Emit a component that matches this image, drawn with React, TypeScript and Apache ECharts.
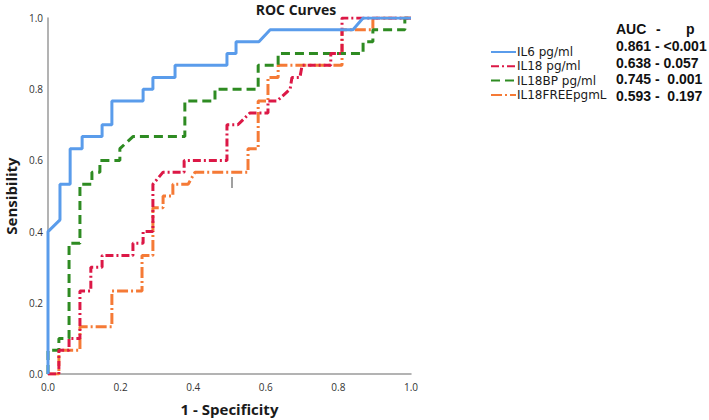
import React, { useEffect, useRef } from "react";
import * as echarts from "echarts";

const seriesNames = ["IL6 pg/ml", "IL18 pg/ml", "IL18BP pg/ml", "IL18FREEpgmL"];
const seriesColors = ["#5A9CEB", "#DC1846", "#2E8B22", "#F57A36"];

// [1 - specificity, sensitivity]
const il6Points = [
  [0, 0], [0, 0.4], [0.033, 0.433], [0.033, 0.533], [0.061, 0.533], [0.061, 0.633],
  [0.094, 0.633], [0.094, 0.667], [0.149, 0.667], [0.149, 0.7], [0.176, 0.7],
  [0.176, 0.767], [0.262, 0.767], [0.262, 0.8], [0.289, 0.8], [0.289, 0.833],
  [0.35, 0.833], [0.35, 0.867], [0.493, 0.867], [0.493, 0.9], [0.518, 0.9],
  [0.518, 0.933], [0.581, 0.933], [0.612, 0.967], [0.84, 0.967], [0.868, 1], [1, 1],
];
const il18Points = [
  [0, 0], [0.03, 0], [0.03, 0.067], [0.058, 0.067], [0.058, 0.1], [0.088, 0.1],
  [0.088, 0.233], [0.118, 0.233], [0.118, 0.3], [0.149, 0.3], [0.149, 0.333],
  [0.234, 0.333], [0.234, 0.367], [0.262, 0.367], [0.262, 0.4], [0.289, 0.4],
  [0.289, 0.533], [0.317, 0.567], [0.375, 0.567], [0.375, 0.6], [0.493, 0.6],
  [0.493, 0.7], [0.523, 0.7], [0.556, 0.733], [0.606, 0.733], [0.606, 0.767],
  [0.631, 0.767], [0.667, 0.8], [0.672, 0.833], [0.694, 0.833], [0.7, 0.867],
  [0.779, 0.867], [0.779, 0.9], [0.81, 0.9], [0.81, 1], [1, 1],
];
const il18bpPoints = [
  [0, 0], [0, 0.067], [0.03, 0.067], [0.03, 0.1], [0.058, 0.1], [0.058, 0.367],
  [0.088, 0.367], [0.088, 0.533], [0.121, 0.533], [0.121, 0.567], [0.143, 0.567],
  [0.143, 0.6], [0.198, 0.6], [0.198, 0.633], [0.234, 0.667], [0.377, 0.667],
  [0.377, 0.767], [0.46, 0.767], [0.46, 0.8], [0.579, 0.8], [0.579, 0.867],
  [0.634, 0.867], [0.634, 0.9], [0.868, 0.9], [0.868, 0.933], [0.895, 0.933],
  [0.895, 0.967], [0.983, 0.967], [0.983, 1], [1, 1],
];
const il18freePoints = [
  [0, 0], [0.03, 0], [0.03, 0.067], [0.088, 0.067], [0.088, 0.133], [0.176, 0.133],
  [0.176, 0.233], [0.259, 0.233], [0.259, 0.333], [0.289, 0.333], [0.289, 0.467],
  [0.317, 0.467], [0.317, 0.5], [0.344, 0.5], [0.344, 0.533], [0.386, 0.533],
  [0.405, 0.567], [0.551, 0.567], [0.551, 0.633], [0.579, 0.633], [0.579, 0.767],
  [0.606, 0.767], [0.606, 0.833], [0.634, 0.833], [0.634, 0.867], [0.81, 0.867],
  [0.81, 0.967], [0.895, 0.967], [0.895, 1], [1, 1],
];
const seriesPoints = [il6Points, il18Points, il18bpPoints, il18freePoints];
const seriesDash: any[] = ["solid", [8, 3, 2, 3], [9, 5], [11, 3, 2, 3]];

const aucHeader = ["AUC", "-", "p"];
const aucRows = ["0.861 - <0.001", "0.638 - 0.057", "0.745 -  0.001", "0.593 -  0.197"];

const FONT = "'Open Sans', 'DejaVu Sans', sans-serif";
const FONT_L = "'DejaVu Sans', 'Open Sans', sans-serif";
const FONT_B = "'Liberation Sans', Arial, sans-serif";

export default function App() {
  const ref = useRef<HTMLDivElement>(null);
  useEffect(() => {
    if (!ref.current) return;
    const chart = echarts.init(ref.current, undefined, { renderer: "svg" });
    const rowY = [46, 62.5, 79, 95.5];
    const aucFont = `bold 14px ${FONT_B}`;
    const graphics: any[] = [
      {
        type: "text",
        x: 296,
        y: 9,
        style: { text: "ROC Curves", font: `bold 14px ${FONT}`, fill: "#1a1a1a", align: "center", verticalAlign: "middle" },
      },
      { type: "text", x: 616, y: 29, style: { text: aucHeader[0], font: aucFont, fill: "#111", verticalAlign: "middle" } },
      { type: "text", x: 656, y: 29, style: { text: aucHeader[1], font: aucFont, fill: "#111", verticalAlign: "middle" } },
      { type: "text", x: 686, y: 29, style: { text: aucHeader[2], font: aucFont, fill: "#111", verticalAlign: "middle" } },
      ...aucRows.map((t, i) => ({
        type: "text",
        x: 616,
        y: rowY[i],
        style: { text: t, font: aucFont, fill: "#111", verticalAlign: "middle" },
      })),
      {
        type: "line",
        shape: { x1: 232, y1: 177, x2: 232, y2: 188 },
        style: { stroke: "#808080", lineWidth: 1.5 },
      },
    ];
    chart.setOption({
      animation: false,
      backgroundColor: "#ffffff",
      grid: { left: 48, right: 298, top: 18, bottom: 46, containLabel: false, outerBoundsMode: "none" },
      legend: {
        orient: "vertical",
        left: 490,
        top: 45,
        padding: 0,
        itemWidth: 25,
        itemHeight: 10,
        itemGap: 0.3,
        data: seriesNames,
        itemStyle: { color: "transparent", borderColor: "transparent", opacity: 0 },
        textStyle: { fontSize: 12, lineHeight: 14, fontFamily: FONT_L, color: "#1a1a1a", padding: [0, 0, 0, -4] },
      },
      xAxis: {
        type: "value",
        min: 0,
        max: 1,
        interval: 0.2,
        name: "1 - Specificity",
        nameLocation: "middle",
        nameGap: 27,
        nameTextStyle: { fontSize: 15, fontWeight: "bold", fontFamily: FONT, color: "#1a1a1a" },
        axisLine: { show: true, lineStyle: { color: "#9a9a9a", width: 1.5 } },
        axisTick: { show: false },
        splitLine: { show: false },
        axisLabel: { formatter: (v: number) => v.toFixed(1), fontSize: 10, fontFamily: FONT, color: "#333", margin: 8 },
      },
      yAxis: {
        type: "value",
        min: 0,
        max: 1,
        interval: 0.2,
        name: "Sensibility",
        nameLocation: "middle",
        nameGap: 30,
        nameTextStyle: { fontSize: 15, fontWeight: "bold", fontFamily: FONT, color: "#1a1a1a" },
        axisLine: { show: true, lineStyle: { color: "#9a9a9a", width: 1.5 } },
        axisTick: { show: false },
        splitLine: { show: false },
        axisLabel: { formatter: (v: number) => v.toFixed(1), fontSize: 10, fontFamily: FONT, color: "#333", margin: 5 },
      },
      series: seriesNames.map((name, i) => ({
        name,
        type: "line",
        data: seriesPoints[i],
        showSymbol: false,
        symbol: "none",
        color: seriesColors[i],
        lineStyle: { width: 3, type: seriesDash[i], color: seriesColors[i] },
        z: 10 - i,
      })),
      graphic: graphics,
    });
    return () => chart.dispose();
  }, []);
  return <div ref={ref} style={{ position: "absolute", left: 0, top: 0, width: 709, height: 420 }} />;
}
